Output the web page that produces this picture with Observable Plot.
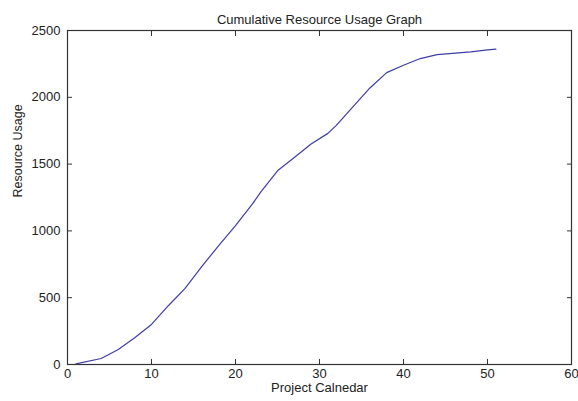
<!DOCTYPE html>
<html>
<head>
<meta charset="utf-8">
<script src="https://cdn.jsdelivr.net/npm/d3@7"></script>
<script src="https://cdn.jsdelivr.net/npm/@observablehq/plot@0.6"></script>
<style>
  html, body { margin: 0; padding: 0; background: #fff; }
  #chart svg { display: block; font-family: "Liberation Sans", Arial, sans-serif; }
</style>
</head>
<body>
<div id="chart"></div>
<script>
const titleText = "Cumulative Resource Usage Graph";
const xLabel = "Project Calnedar";
const yLabel = "Resource Usage";

const days  = [1, 4, 6, 8, 10, 12, 14, 16, 18, 20, 22, 23, 25, 27, 29, 31, 32, 34, 36, 38, 40, 42, 44, 48, 50, 51];
const usage = [5, 45, 110, 200, 300, 440, 570, 735, 890, 1040, 1200, 1290, 1450, 1550, 1650, 1730, 1790, 1930, 2070, 2185, 2240, 2290, 2320, 2340, 2355, 2360];

const xTicks = [0, 10, 20, 30, 40, 50, 60];
const yTicks = [0, 500, 1000, 1500, 2000, 2500];

const data = days.map((d, i) => ({day: d, usage: usage[i]}));

const axisColor = "#333";
const textColor = "#222";
const fmt = d3.format("d");

const plot = Plot.plot({
  width: 578,
  height: 401,
  marginLeft: 67,
  marginRight: 7,
  marginTop: 30,
  marginBottom: 37,
  style: {fontSize: "13px", color: textColor, background: "#fff"},
  x: {domain: [0, 60]},
  y: {domain: [0, 2500]},
  marks: [
    Plot.frame({stroke: axisColor, strokeWidth: 1.2}),
    Plot.axisX(xTicks, {anchor: "bottom", tickSize: -5, tickPadding: 9, tickFormat: fmt, stroke: axisColor, fill: textColor, fontSize: 13, label: null}),
    Plot.axisX(xTicks, {anchor: "top", tickSize: -5, tickFormat: () => "", stroke: axisColor, label: null}),
    Plot.axisY(yTicks, {anchor: "left", tickSize: -5, tickPadding: 12, tickFormat: fmt, stroke: axisColor, fill: textColor, fontSize: 13, label: null}),
    Plot.axisY(yTicks, {anchor: "right", tickSize: -5, tickFormat: () => "", stroke: axisColor, label: null}),
    Plot.line(data, {x: "day", y: "usage", stroke: "#3d3da8", strokeWidth: 1.2}),
    Plot.text([titleText], {frameAnchor: "top", dy: -16, fontSize: 13, fill: textColor, style: "letter-spacing:0.35px"}),
    Plot.text([xLabel], {frameAnchor: "bottom", dy: 27, fontSize: 13, fill: textColor, style: "letter-spacing:0.9px"}),
    Plot.text([yLabel], {frameAnchor: "left", dx: -50, rotate: -90, fontSize: 12.5, fill: textColor})
  ]
});
document.getElementById("chart").appendChild(plot);
</script>
</body>
</html>
